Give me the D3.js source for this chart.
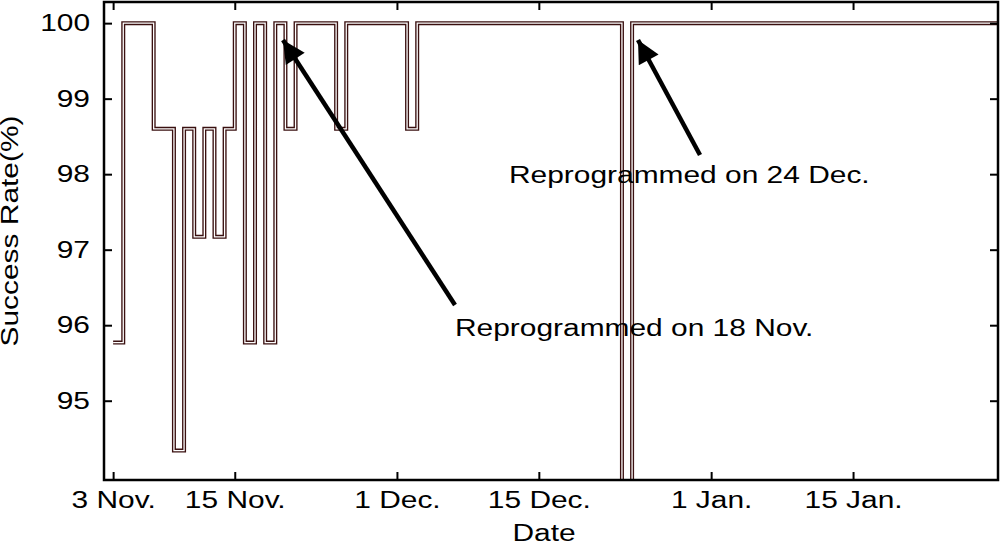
<!DOCTYPE html>
<html><head><meta charset="utf-8">
<script src="https://cdn.jsdelivr.net/npm/d3@7"></script>
<style>body{margin:0;background:#fff}text{font-family:"Liberation Sans",Arial,sans-serif}</style>
</head><body><svg id="c" width="1000" height="545"></svg>
<script>
// step data: day offset from 3 Nov, success rate (%) from that day on
var days  = [0, 1, 4, 6, 7, 8, 9, 10, 11, 12, 13, 14, 15, 16, 17, 18, 22, 23, 29, 30, 50.2, 51.2, 87.5];
var rates = [95.77, 100, 98.6, 94.34, 98.6, 97.17, 98.6, 97.17, 98.6, 100, 95.77, 100, 95.77, 100, 98.6, 100, 98.6, 100, 98.6, 100, 92, 100, 100];
var xTickDays = [0, 12, 28, 42, 59, 73];
var xTickLabels = ["3 Nov.", "15 Nov.", "1 Dec.", "15 Dec.", "1 Jan.", "15 Jan."];
var yTicks = [95, 96, 97, 98, 99, 100];

var margin = {top: 2, right: 2, bottom: 65, left: 104},
    width = 1000 - margin.left - margin.right,
    height = 545 - margin.top - margin.bottom;

var x = d3.scaleLinear().domain([-0.9, 87.3]).range([0, width]);
var y = d3.scaleLinear().domain([93.95, 100.28]).range([height, 0]);

var svg = d3.select("#c").append("g")
    .attr("transform", "translate(" + margin.left + "," + margin.top + ")");

svg.append("defs").append("clipPath").attr("id", "clip")
  .append("rect").attr("width", width).attr("height", height);

var pts = days.map(function(d, i) { return [d, rates[i]]; });
var line = d3.line().x(function(d) { return x(d[0]); }).y(function(d) { return y(d[1]); })
    .curve(d3.curveStepAfter);

var g = svg.append("g").attr("clip-path", "url(#clip)");
g.append("path").attr("d", line(pts)).attr("fill", "none")
    .attr("stroke", "#3a1010").attr("stroke-width", 4);
g.append("path").attr("d", line(pts)).attr("fill", "none")
    .attr("stroke", "#fff").attr("stroke-width", 1.3);

// axes with inward ticks, mirrored
var tk = 8;
svg.append("g").attr("transform", "translate(0," + height + ")")
    .call(d3.axisBottom(x).tickValues(xTickDays).tickSize(-tk).tickPadding(12)
      .tickFormat(function(d, i) { return xTickLabels[i]; }))
    .call(function(a) { a.select(".domain").remove(); });
svg.append("g")
    .call(d3.axisTop(x).tickValues(xTickDays).tickSize(-tk).tickFormat(""))
    .call(function(a) { a.select(".domain").remove(); });
svg.append("g")
    .call(d3.axisLeft(y).tickValues(yTicks).tickSize(-tk).tickPadding(14).tickFormat(d3.format("d")))
    .call(function(a) { a.select(".domain").remove(); });
svg.append("g").attr("transform", "translate(" + width + ",0)")
    .call(d3.axisRight(y).tickValues(yTicks).tickSize(-tk).tickFormat(""))
    .call(function(a) { a.select(".domain").remove(); });
svg.selectAll(".tick line").attr("stroke", "#000").attr("stroke-width", 2);
svg.selectAll(".tick text").attr("font-size", 23).attr("fill", "#000")
    .style("font-family", "Liberation Sans, Arial, sans-serif");

svg.append("rect").attr("width", width).attr("height", height)
    .attr("fill", "none").attr("stroke", "#000").attr("stroke-width", 2.5);

svg.append("text").attr("x", width / 2 - 7).attr("y", height + 61)
    .attr("text-anchor", "middle").attr("font-size", 23).text("Date");
svg.append("text").attr("transform", "translate(-86," + (height / 2 - 10) + ") rotate(-90)")
    .attr("text-anchor", "middle").attr("font-size", 23).text("Success Rate(%)");

// annotations
var defs = svg.select("defs");
defs.append("marker").attr("id", "ah").attr("viewBox", "0 0 10 10")
    .attr("refX", 10).attr("refY", 5).attr("markerWidth", 7).attr("markerHeight", 5)
    .attr("markerUnits", "strokeWidth").attr("orient", "auto")
  .append("path").attr("d", "M0,0L10,5L0,10Z").attr("fill", "#000");

function arrow(x1, y1, x2, y2) {
  svg.append("line").attr("x1", x1 - margin.left).attr("y1", y1 - margin.top)
      .attr("x2", x2 - margin.left).attr("y2", y2 - margin.top)
      .attr("stroke", "#000").attr("stroke-width", 4.5).attr("marker-end", "url(#ah)");
}
arrow(455, 305, 283, 40);
arrow(700, 155, 638, 40);

svg.append("text").attr("x", 509 - margin.left).attr("y", 183 - margin.top)
    .attr("font-size", 23).text("Reprogrammed on 24 Dec.");
svg.append("text").attr("x", 455 - margin.left).attr("y", 336 - margin.top)
    .attr("font-size", 23).text("Reprogrammed on 18 Nov.");

// the reference lettering is wide; stretch every label horizontally
svg.selectAll("text").each(function() {
  var t = d3.select(this), w = this.getComputedTextLength();
  if (w > 0) t.attr("textLength", w * 1.3).attr("lengthAdjust", "spacingAndGlyphs");
});
</script></body></html>
